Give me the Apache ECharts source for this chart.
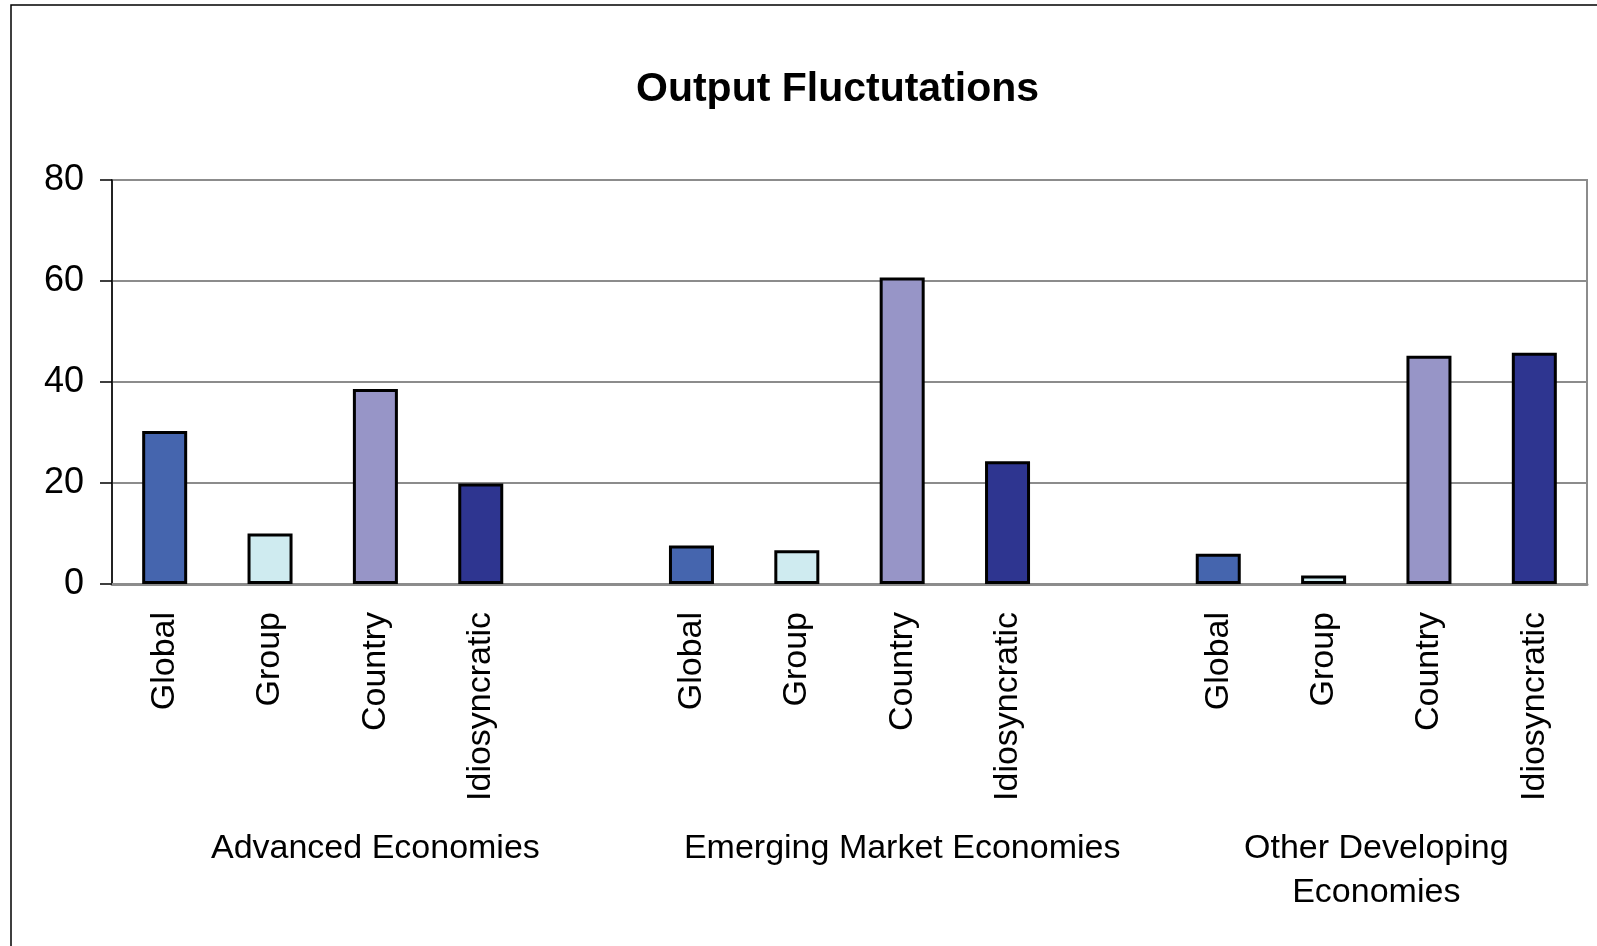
<!DOCTYPE html>
<html>
<head>
<meta charset="utf-8">
<title>Output Fluctutations</title>
<script src="https://cdn.jsdelivr.net/npm/echarts@6/dist/echarts.min.js"></script>
<style>
  html, body { margin: 0; padding: 0; background: #ffffff; }
  #chart { width: 1597px; height: 946px; }
</style>
</head>
<body>
<div id="chart"></div>
<script>
// Variance shares of output fluctuations by factor, per economy group
const components = ['Global', 'Group', 'Country', 'Idiosyncratic'];
const groups = ['Advanced Economies', 'Emerging Market Economies', 'Other Developing\nEconomies'];
const advanced = [30.3, 10.0, 38.6, 19.9];
const emerging = [7.6, 6.7, 60.7, 24.3];
const otherDeveloping = [6.0, 1.7, 45.2, 45.8];
const componentColors = ['#4565AE', '#CFEBF0', '#9795C7', '#2E3590'];
const yTicks = [0, 20, 40, 60, 80];

const FONT = '"Liberation Sans", Arial, Helvetica, sans-serif';
const groupValues = [advanced, emerging, otherDeveloping];

// Flatten into one category axis, with an empty slot between groups
const categories = [];
const barData = [];
const groupSpans = [];
groupValues.forEach((vals, g) => {
  const start = categories.length;
  vals.forEach((v, i) => {
    categories.push(components[i]);
    barData.push({ value: v, itemStyle: { color: componentColors[i] } });
  });
  if (g < groupValues.length - 1) {
    categories.push('');
    barData.push('-');
  }
  groupSpans.push([start, categories.length - 1]);
});

const chart = echarts.init(document.getElementById('chart'), null, { renderer: 'canvas' });

const option = {
  animation: false,
  backgroundColor: '#ffffff',
  title: {
    text: 'Output Fluctutations',
    left: 631,
    top: 64,
    textStyle: { fontFamily: FONT, fontSize: 41, fontWeight: 'bold', color: '#000000' }
  },
  grid: {
    left: 112, right: 10, top: 180, bottom: 362,
    show: true, borderColor: '#8c8c8c', borderWidth: 2, backgroundColor: 'transparent'
  },
  xAxis: {
    type: 'category',
    data: categories,
    axisLine: { show: true, lineStyle: { color: '#8c8c8c', width: 3 } },
    axisTick: { show: false },
    axisLabel: {
      interval: 0,
      rotate: 90,
      margin: 28,
      fontFamily: FONT,
      fontSize: 34,
      color: '#000000'
    },
    splitLine: { show: false }
  },
  yAxis: {
    type: 'value',
    min: yTicks[0],
    max: yTicks[yTicks.length - 1],
    interval: yTicks[1] - yTicks[0],
    axisLine: { show: true, lineStyle: { color: '#000000', width: 1.5 } },
    axisTick: { show: true, inside: false, length: 12, lineStyle: { color: '#000000', width: 1.5 } },
    axisLabel: { margin: 28, fontFamily: FONT, fontSize: 36, color: '#000000' },
    splitLine: { show: true, lineStyle: { color: '#8c8c8c', width: 2 } }
  },
  series: [{
    type: 'bar',
    data: barData,
    barWidth: 45,
    itemStyle: { borderColor: '#000000', borderWidth: 3 },
    z: 3
  }],
  graphic: [{
    type: 'rect',
    shape: { x: 11, y: 5, width: 1620, height: 980 },
    style: { fill: 'none', stroke: '#000000', lineWidth: 1.5 },
    silent: true,
    z: 10
  }]
};

chart.setOption(option);

// Group captions centred under each group's span of category slots
const captions = groupSpans.map((span, g) => {
  const x0 = chart.convertToPixel({ xAxisIndex: 0 }, span[0]);
  const x1 = chart.convertToPixel({ xAxisIndex: 0 }, span[1]);
  return {
    type: 'text',
    x: (x0 + x1) / 2,
    y: 827,
    style: {
      text: groups[g],
      fontFamily: FONT,
      fontSize: 34,
      lineHeight: 44,
      fill: '#000000',
      align: 'center',
      verticalAlign: 'top'
    },
    silent: true
  };
});

chart.setOption({ graphic: option.graphic.concat(captions) });
</script>
</body>
</html>
